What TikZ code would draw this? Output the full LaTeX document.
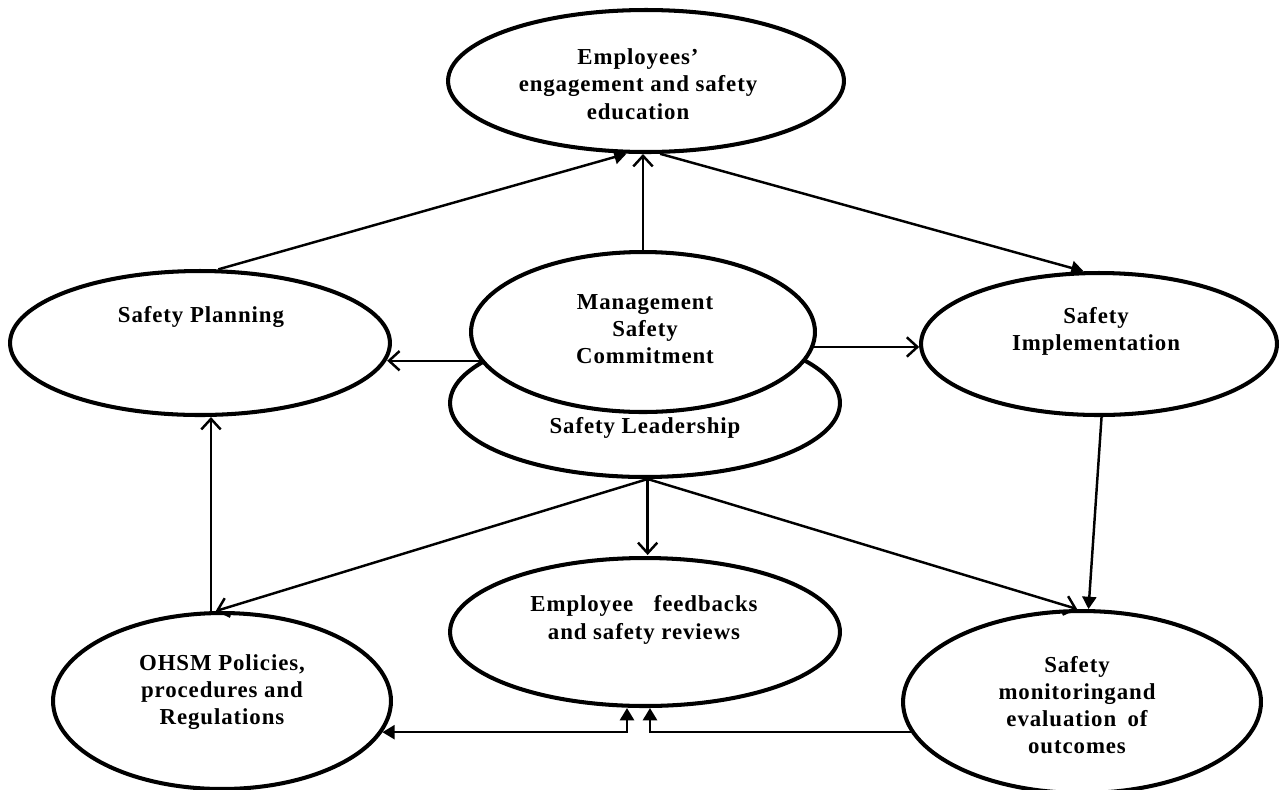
\documentclass[tikz,border=0pt]{standalone}
\usepackage{fontspec}
\setmainfont{Liberation Serif}[LetterSpace=4]
\usetikzlibrary{shapes.geometric,arrows.meta,calc}
\tikzset{
  ell/.style 2 args={ellipse, draw, line width=2.3pt, fill=white, inner sep=0pt,
    minimum width=#1*0.04cm+2.3pt, minimum height=#2*0.04cm+2.3pt},
  lbl/.style={align=center, inner sep=0pt, font=\fontsize{13}{15.5}\selectfont\bfseries},
  conn/.style={line width=1.4pt},
  openarr/.style={conn, -{Straight Barb[length=6pt,width=11pt]}},
  triarr/.style={conn, -{Triangle[length=7pt,width=8pt]}},
  tritri/.style={conn, {Triangle[length=7pt,width=8pt]}-{Triangle[length=7pt,width=8pt]}}
}
\begin{document}
\begin{tikzpicture}[x=0.02cm, y=-0.02cm]
\useasboundingbox (0,0) rectangle (1280,789);
% ellipses
\node[ell={196}{69}] (emp) at (646,81) {};
\node[ell={188}{70}] (plan) at (200,343) {};
\node[ell={193}{72}] (lead) at (645,403) {};
\node[ell={170}{78}] (mgmt) at (643,332) {};
\node[ell={176}{69}] (impl) at (1099,344) {};
\node[ell={193}{72}] (fb) at (645,632) {};
\node[ell={167}{86}] (ohsm) at (222,701) {};
\node[ell={177}{89}] (mon) at (1082,702) {};
% labels
\node[lbl] (temp) at (638,84) {Employees’\\engagement and safety\\education};
\node[lbl] (tplan) at (201,317) {Safety Planning};
\node[lbl] (tmgmt) at (645,329) {Management\\Safety\\Commitment};
\node[lbl] (tlead) at (645,428) {Safety Leadership};
\node[lbl] (timpl) at (1096,331) {Safety\\Implementation};
\node[lbl] (tfb) at (644,620) {Employee\hspace{0.9em}feedbacks\\and safety reviews};
\node[lbl] (tohsm) at (222,692) {OHSM Policies,\\procedures and\\Regulations};
\node[lbl] (tmon) at (1077,705) {Safety\\monitoringand\\evaluation\hspace{0.5em}of\\outcomes};
% connectors
\draw[triarr] (plan.76.3) -- (emp.255.4);
\draw[openarr] (mgmt.north) -- (mgmt.north |- emp.south);
\draw[triarr] (emp.281.5) -- (impl.102.5);
\draw[openarr] (mgmt.190) -- (plan.-5.3 |- mgmt.190);
\draw[openarr] (mgmt.-5.9) -- (impl.181.6 |- mgmt.-5.9);
\draw[triarr] (impl.272.5) -- (mon.86.1);
\draw[openarr] (lead.272) -- (ohsm.94.6);
\draw[openarr] (lead.272) -- ($(lead.272 |- fb.north)+(0,-1)$);
\draw[openarr] (lead.272) -- (mon.93.2);
\draw[openarr] (ohsm.97.3) -- (ohsm.97.3 |- plan.south);
\draw[tritri] (ohsm.-11.7) -| ($(fb.south)+(-18,0)$);
\draw[triarr] (mon.190) -| ($(fb.south)+(5,0)$);
\end{tikzpicture}
\end{document}
